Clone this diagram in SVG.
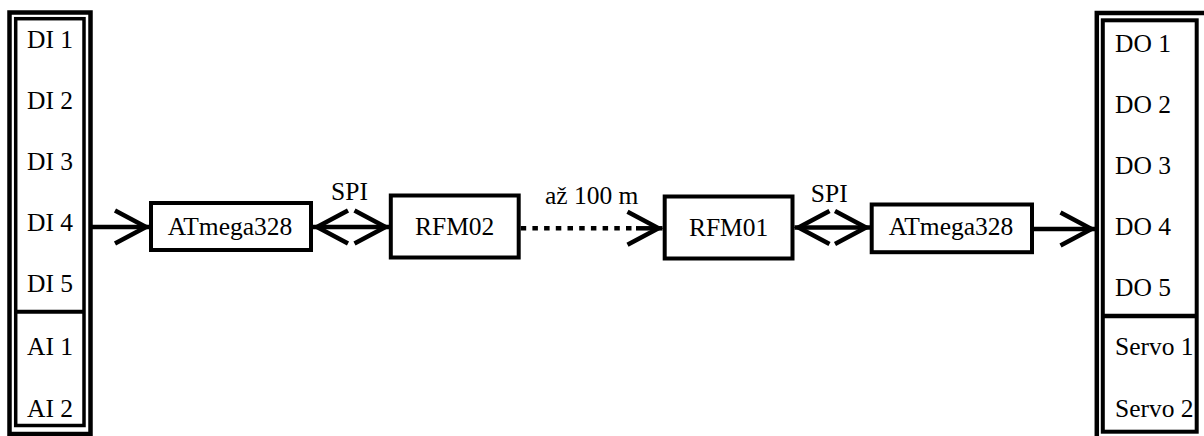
<svg xmlns="http://www.w3.org/2000/svg" width="1204" height="436" viewBox="0 0 1204 436">
<style>
.t{font-family:"Liberation Serif","Times New Roman",serif;font-size:25.5px;fill:#000}
.c{text-anchor:middle}
.box{fill:#fff;stroke:#000;stroke-width:4}
.frame{fill:none;stroke:#000}
.ln{fill:none;stroke:#000;stroke-width:4.5}
.dot{stroke-dasharray:5.5 6.2}
</style>
<defs>
<marker id="ah" viewBox="-40 -22 48 44" refX="0" refY="0" markerWidth="48" markerHeight="44" markerUnits="userSpaceOnUse" orient="auto-start-reverse" overflow="visible">
<path d="M-35,-16.5 L-4,0 L-35,16.5" fill="none" stroke="#000" stroke-width="4.5"/>
</marker>
</defs>
<rect width="1204" height="436" fill="#fff"/>
<g id="inputs">
<rect class="frame" x="9.5" y="12.5" width="81" height="421.5" stroke-width="4.5"/>
<rect class="frame" x="15.7" y="18.7" width="68.3" height="406.8" stroke-width="3.5"/>
<line x1="15.7" y1="311.7" x2="84" y2="311.7" stroke="#000" stroke-width="4"/>
<text class="t" x="27" y="48">DI 1</text>
<text class="t" x="27" y="109">DI 2</text>
<text class="t" x="27" y="170">DI 3</text>
<text class="t" x="27" y="231">DI 4</text>
<text class="t" x="27" y="292">DI 5</text>
<text class="t" x="27" y="355">AI 1</text>
<text class="t" x="27" y="417">AI 2</text>
</g>
<g id="outputs">
<rect class="frame" x="1096.8" y="13" width="200" height="500" stroke-width="4.5"/>
<rect class="frame" x="1102.8" y="20.3" width="93.9" height="411.4" stroke-width="4"/>
<line x1="1102.8" y1="316" x2="1196.7" y2="316" stroke="#000" stroke-width="4.5"/>
<text class="t" x="1115" y="52">DO 1</text>
<text class="t" x="1115" y="113">DO 2</text>
<text class="t" x="1115" y="174">DO 3</text>
<text class="t" x="1115" y="235">DO 4</text>
<text class="t" x="1115" y="296">DO 5</text>
<text class="t" x="1115" y="355">Servo 1</text>
<text class="t" x="1115" y="417">Servo 2</text>
</g>
<g id="atmega-tx">
<rect class="box" x="151" y="203" width="160" height="47"/>
<text class="t c" x="230" y="235">ATmega328</text>
</g>
<g id="rfm02">
<rect class="box" x="390.8" y="195.5" width="127.9" height="62"/>
<text class="t c" x="454.7" y="235">RFM02</text>
</g>
<g id="rfm01">
<rect class="box" x="664.7" y="196.5" width="127.8" height="62"/>
<text class="t c" x="728.6" y="236">RFM01</text>
</g>
<g id="atmega-rx">
<rect class="box" x="871.7" y="204.5" width="160.3" height="47.7"/>
<text class="t c" x="951" y="235">ATmega328</text>
</g>
<g id="connectors">
<path class="ln" d="M92,227 H150" marker-end="url(#ah)"/>
<path class="ln" d="M313,227 H389.5" marker-start="url(#ah)" marker-end="url(#ah)"/>
<text class="t c" x="349.5" y="200">SPI</text>
<path class="ln dot" d="M520.7,228.3 H636"/>
<path class="ln" d="M636,228.3 H662.5" marker-end="url(#ah)"/>
<text class="t c" x="591.7" y="203.5">až 100 m</text>
<path class="ln" d="M794.5,227.5 H870" marker-start="url(#ah)" marker-end="url(#ah)"/>
<text class="t c" x="829.2" y="201.5">SPI</text>
<path class="ln" d="M1034,229 H1095.5" marker-end="url(#ah)"/>
</g>
</svg>
